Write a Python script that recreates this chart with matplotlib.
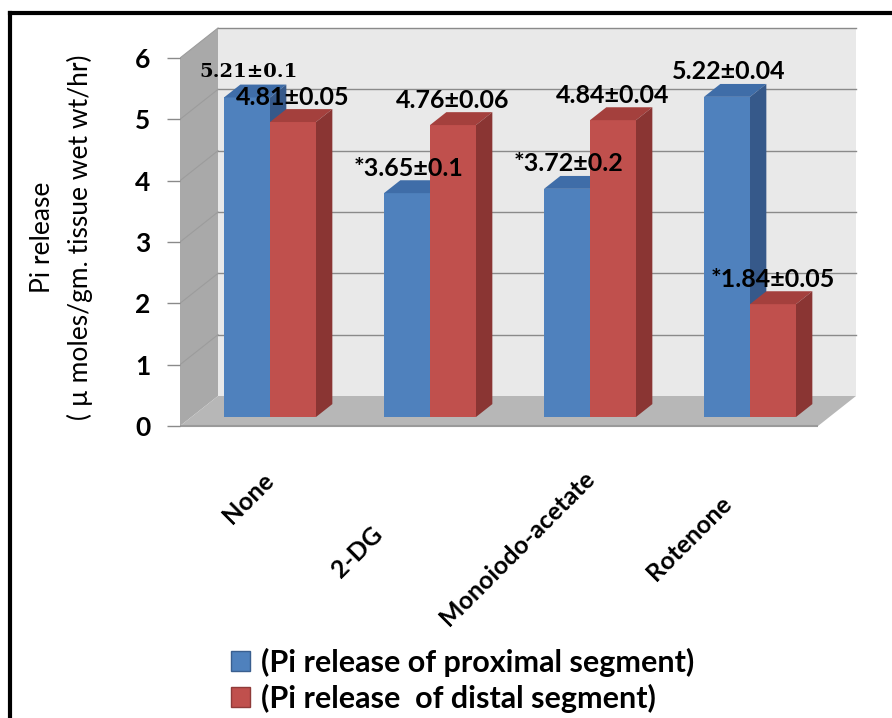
import matplotlib
matplotlib.use("Agg")
import matplotlib.pyplot as plt
from matplotlib.patches import Polygon, Rectangle, Patch
from matplotlib.lines import Line2D

plt.rcParams['font.family'] = ['Lato', 'DejaVu Sans']

# ---------------- data ----------------
categories = ['None', '2-DG', 'Monoiodo-acetate', 'Rotenone']
proximal = [5.21, 3.65, 3.72, 5.22]
distal = [4.81, 4.76, 4.84, 1.84]
proximal_labels = ['5.21\u00b10.1', '*3.65\u00b10.1', '*3.72\u00b10.2', '5.22\u00b10.04']
distal_labels = ['4.81\u00b10.05', '4.76\u00b10.06', '4.84\u00b10.04', '*1.84\u00b10.05']
series_names = ['(Pi release of proximal segment)', '(Pi release  of distal segment)']
yticks = [0, 1, 2, 3, 4, 5, 6]
ylabel_lines = ['Pi release', '( \u00b5 moles/gm. tissue wet wt/hr)']

# ---------------- style / layout ----------------
PXX = 160.0           # pixels per category
PXY = 61.33           # pixels per value unit
DX, DY = 38 / PXX, 30 / PXY       # depth vector (data units)
F0, FD = 0.30, 0.43               # bar front depth fraction, bar depth fraction
W = 46 / PXX
XL, XR = -90 / PXX, 548 / PXX     # front-left / front-right of floor
YMAX = 6

blue = dict(front='#4F81BD', top='#3F6DA8', side='#36598A')
red = dict(front='#C0504D', top='#A4403D', side='#8A3533')

fig = plt.figure(figsize=(8.92, 7.18), dpi=100)
ax = fig.add_axes([180 / 892, 1 - 440 / 718, 700 / 892, 420 / 718])
ax.set_xlim(XL, 700 / PXX + XL)
ax.set_ylim(-14 / PXY, 406 / PXY)
for s in ax.spines.values():
    s.set_visible(False)
ax.set_xticks([])

# back wall
ax.add_patch(Rectangle((XL + DX, DY), XR - XL, YMAX, facecolor='#e9e9e9',
                       edgecolor='none', zorder=0))
# side wall
ax.add_patch(Polygon([(XL, 0), (XL + DX, DY), (XL + DX, YMAX + DY), (XL, YMAX)],
                     closed=True, facecolor='#a9a9a9', edgecolor='none', zorder=0.5))
# floor
ax.add_patch(Polygon([(XL, 0), (XR, 0), (XR + DX, DY), (XL + DX, DY)],
                     closed=True, facecolor='#b7b7b7', edgecolor='none', zorder=0.6))
ax.plot([XL - 4 / PXX, XR], [0, 0], color='#9a9a9a', lw=1.5, zorder=0.7,
        solid_capstyle='butt')

# gridlines
for k in yticks[1:]:
    ax.plot([XL + DX, XR + DX], [k + DY, k + DY], color='#8a8a8a', lw=1, zorder=0.8)
    ax.plot([XL, XL + DX], [k, k + DY], color='#9c9c9c', lw=0.8, zorder=0.8)

base = F0 * DY
ddx, ddy = FD * DX, FD * DY
xs = list(range(len(categories)))


def bar3d(x0, val, col, z):
    ax.bar(x0, val, width=W, bottom=base, align='edge', color=col['front'],
           edgecolor='none', zorder=z)
    top = base + val
    ax.add_patch(Polygon([(x0, top), (x0 + W, top), (x0 + W + ddx, top + ddy),
                          (x0 + ddx, top + ddy)], closed=True,
                         facecolor=col['top'], edgecolor='none', zorder=z))
    ax.add_patch(Polygon([(x0 + W, base), (x0 + W + ddx, base + ddy),
                          (x0 + W + ddx, top + ddy), (x0 + W, top)], closed=True,
                         facecolor=col['side'], edgecolor='none', zorder=z))


z = 2
for i in xs:
    bar3d(i - W, proximal[i], blue, z)
    z += 0.1
    bar3d(i, distal[i], red, z)
    z += 0.1

# value labels
for i in xs:
    fam = ['DejaVu Serif'] if i == 0 else ['Lato', 'DejaVu Sans']
    fs = 14 if i == 0 else 18
    ax.annotate(proximal_labels[i], (i - W / 2, base + proximal[i]),
                xytext=(1, 18), textcoords='offset points', ha='center',
                va='center', fontsize=fs, fontweight='bold', family=fam,
                zorder=10)
    ax.annotate(distal_labels[i], (i + W / 2, base + distal[i]),
                xytext=(0, 18), textcoords='offset points', ha='center',
                va='center', fontsize=18, fontweight='bold', zorder=10)

# y ticks
ax.set_yticks(yticks)
ax.set_yticklabels([str(t) for t in yticks], fontsize=19, fontweight='bold')
ax.tick_params(axis='y', direction='out', length=9.5, width=1, color='#8a8a8a',
               pad=12)

# y-axis title (two lines)
fig.text(42 / 892, 1 - 237 / 718, ylabel_lines[0], rotation=90, ha='center',
         va='center', fontsize=19)
fig.text(80 / 892, 1 - 237 / 718, ylabel_lines[1], rotation=90, ha='center',
         va='center', fontsize=19)

# category labels (rotated)
lab_off = [(-8, 468), (-59, 522), (-7, 467), (-30, 492)]
for i, c in enumerate(categories):
    dxp, ypx = lab_off[i]
    ax.text(i + dxp / PXX, (426 - ypx) / PXY, c, rotation=45,
            rotation_mode='anchor', ha='right', va='top', fontsize=18,
            fontweight='bold', clip_on=False)

# legend
handles = [Patch(facecolor=blue['front'], edgecolor='#3a5f8f'),
           Patch(facecolor=red['front'], edgecolor='#8f3b39')]
fig.legend(handles, series_names, loc='upper left',
           bbox_to_anchor=(231 / 892, 1 - 648 / 718), frameon=False,
           prop=dict(size=22, weight='bold'), handlelength=0.62,
           handleheight=0.62, handletextpad=0.35, labelspacing=0.22,
           borderpad=0, borderaxespad=0)

# outer black frame (left and top edges visible)
fig.add_artist(Line2D([10 / 892, 10 / 892], [0, 1 - 13 / 718], color='black',
                      lw=3, transform=fig.transFigure))
fig.add_artist(Line2D([10 / 892, 1], [1 - 13 / 718, 1 - 13 / 718], color='black',
                      lw=3, transform=fig.transFigure))

fig.savefig('out.png', dpi=100)
